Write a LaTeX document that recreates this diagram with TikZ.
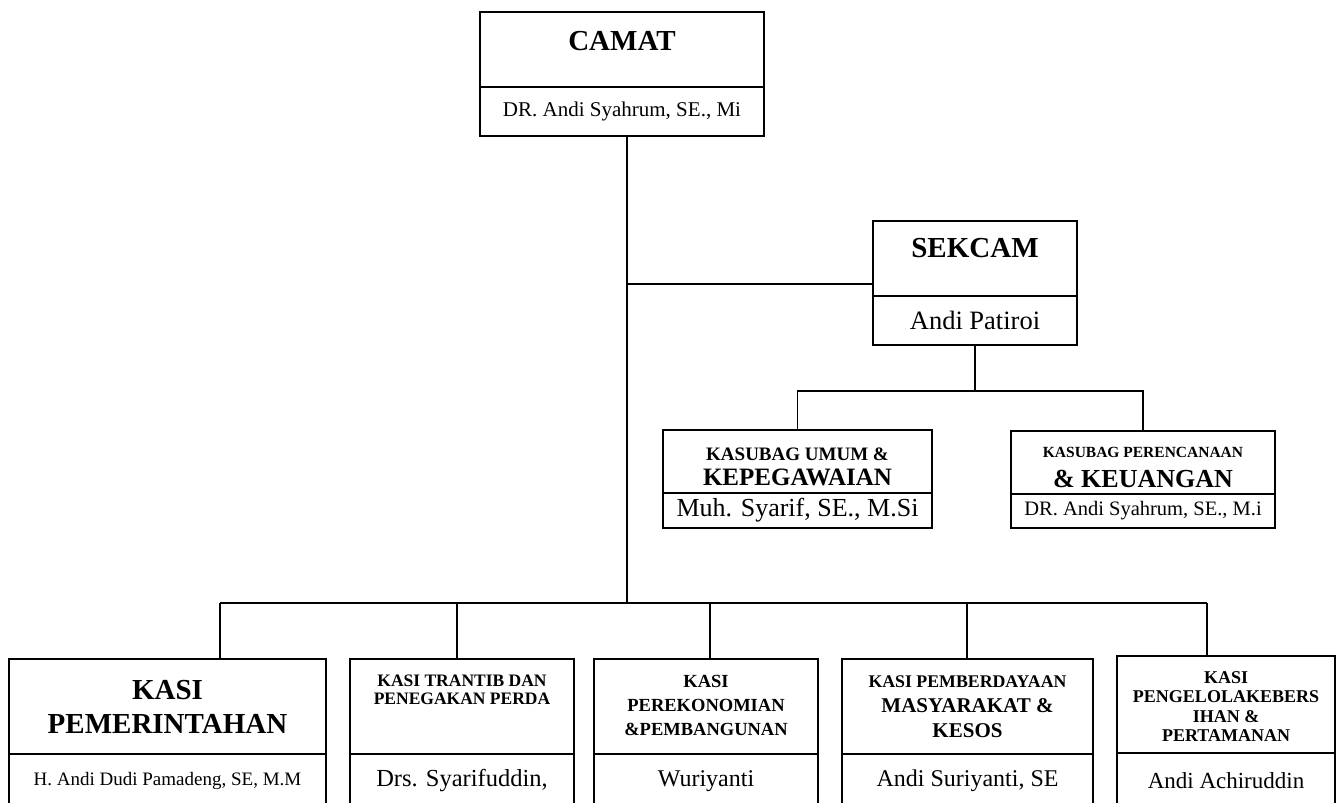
\documentclass[tikz,border=0pt]{standalone}
\usepackage{fontspec}
\setmainfont{Liberation Serif}
\newcommand{\hrf}[2]{\fontsize{#1}{#2}\selectfont}

\begin{document}
\begin{tikzpicture}[x=1pt,y=-1pt,
  kotak/.style 2 args={draw,line width=1.7pt,inner sep=0pt,outer sep=0pt,minimum width=#1,minimum height=#2},
  judul/.style={align=center,inner sep=0pt},
  garis/.style={line width=1.6pt}]
\useasboundingbox (0,0) rectangle (1344,803);
\clip (0,0) rectangle (1344,803);

% camat
\node[kotak={284pt}{75pt}] (camat) at (622,49.5) {};
\node[kotak={284pt}{49pt},font=\hrf{21}{25}] (camatnama) at (622,111.5) {DR. Andi Syahrum, SE., Mi};
\node[judul,font=\hrf{29}{34}\bfseries,yshift=8.5pt] (tcamat) at (camat) {CAMAT};

% sekcam
\node[kotak={204pt}{75pt}] (sekcam) at (975,258.5) {};
\node[kotak={204pt}{49pt},font=\hrf{26.5}{30}] (sekcamnama) at (975,320.5) {Andi Patiroi};
\node[judul,font=\hrf{29}{34}\bfseries,yshift=10.5pt] (tsekcam) at (sekcam) {SEKCAM};

% kasubag
\node[kotak={269pt}{63pt}] (umum) at (797.5,461.5) {};
\node[kotak={269pt}{35pt},font=\hrf{26}{30}] (umumnama) at (797.5,510.5) {Muh. Syarif, SE., M.Si};
\node[judul,font=\hrf{19}{25}\bfseries,yshift=-5.5pt] (tumum) at (umum) {KASUBAG UMUM \&\\{\hrf{25}{25}KEPEGAWAIAN}};

\node[kotak={264pt}{63pt}] (keuangan) at (1143,462.5) {};
\node[kotak={264pt}{34pt},font=\hrf{20.5}{24}] (keuangannama) at (1143,511) {DR. Andi Syahrum, SE., M.i};
\node[judul,font=\hrf{15.5}{30}\bfseries,yshift=-5pt] (tkeuangan) at (keuangan) {KASUBAG PERENCANAAN\\{\hrf{26}{30}\& KEUANGAN}};

% kasi
\node[kotak={317pt}{95pt}] (kasi1) at (167.5,706.5) {};
\node[kotak={317pt}{54pt},font=\hrf{19}{22}] (kasinama1) at (167.5,781) {H. Andi Dudi Pamadeng, SE, M.M};
\node[judul,font=\hrf{29}{34}\bfseries] (tkasi1) at (kasi1) {KASI\\PEMERINTAHAN};

\node[kotak={224pt}{95pt}] (kasi2) at (462,706.5) {};
\node[kotak={224pt}{54pt},font=\hrf{24.5}{28}] (kasinama2) at (462,781) {Drs. Syarifuddin,};
\node[judul,font=\hrf{17.5}{18}\bfseries,yshift=16.5pt] (tkasi2) at (kasi2) {KASI TRANTIB DAN\\PENEGAKAN PERDA};

\node[kotak={224pt}{95pt}] (kasi3) at (706,706.5) {};
\node[kotak={224pt}{54pt},font=\hrf{24}{28}] (kasinama3) at (706,781) {Wuriyanti};
\node[judul,font=\hrf{18.5}{24}\bfseries,yshift=1.5pt] (tkasi3) at (kasi3) {KASI\\PEREKONOMIAN\\\&PEMBANGUNAN};

\node[kotak={251pt}{95pt}] (kasi4) at (967.5,706.5) {};
\node[kotak={251pt}{54pt},font=\hrf{24}{28}] (kasinama4) at (967.5,781) {Andi Suriyanti, SE};
\node[judul,font=\hrf{21}{25}\bfseries] (tkasi4) at (kasi4) {{\hrf{17.8}{25}KASI PEMBERDAYAAN}\\MASYARAKAT \&\\KESOS};

\node[kotak={218pt}{97pt}] (kasi5) at (1226,704.5) {};
\node[kotak={218pt}{55pt},font=\hrf{23}{27}] (kasinama5) at (1226,780.5) {Andi Achiruddin};
\node[judul,font=\hrf{18}{19.5}\bfseries,yshift=-2pt] (tkasi5) at (kasi5) {KASI\\PENGELOLAKEBERS\\IHAN \&\\PERTAMANAN};

% garis
\coordinate (batang) at (627,603);
\coordinate (cabang) at (627,284);
\coordinate (simpul) at (975,391);
\draw[garis] (camatnama.south -| batang) -- (batang);
\draw[garis] (cabang) -- (cabang -| sekcam.west);
\draw[garis] (sekcamnama.south) -- (simpul);
\draw[garis] (umum.north) -- (umum.north |- simpul) -- (keuangan.north |- simpul) -- (keuangan.north);

\coordinate (d1) at (220,603);
\coordinate (d2) at (457,603);
\coordinate (d3) at (710,603);
\coordinate (d4) at (967,603);
\coordinate (d5) at (1207,603);
\draw[garis] (d1) -- (d5);
\foreach \i in {1,...,5}
  \draw[garis] (d\i) -- (d\i |- kasi\i.north);

\end{tikzpicture}
\end{document}
